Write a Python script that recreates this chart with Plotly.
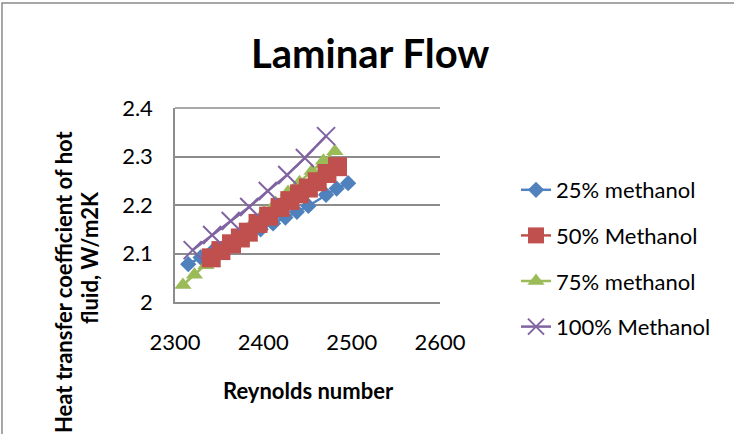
import plotly.graph_objects as go

# Reynolds number vs. hot-fluid heat transfer coefficient, laminar regime
re_25 = [2315, 2329, 2342, 2356, 2369, 2383, 2397, 2411, 2425, 2438, 2451, 2471, 2483, 2496]
h_25 = [2.078, 2.092, 2.104, 2.115, 2.127, 2.139, 2.150, 2.162, 2.174, 2.186, 2.198, 2.221, 2.234, 2.245]

re_50 = [2341, 2352, 2364, 2374, 2383, 2394, 2406, 2419, 2430, 2441, 2451, 2461, 2472, 2484]
h_50 = [2.091, 2.106, 2.120, 2.132, 2.144, 2.162, 2.177, 2.195, 2.209, 2.223, 2.235, 2.248, 2.265, 2.279]

re_75 = [2309, 2322, 2335, 2348, 2361, 2375, 2388, 2401, 2414, 2428, 2441, 2455, 2468, 2481]
h_75 = [2.035, 2.056, 2.076, 2.099, 2.121, 2.140, 2.163, 2.185, 2.204, 2.227, 2.247, 2.270, 2.291, 2.311]

re_100 = [2320, 2342, 2363, 2384, 2405, 2427, 2447, 2471]
h_100 = [2.107, 2.138, 2.167, 2.196, 2.229, 2.262, 2.297, 2.342]

series_names = ["25% methanol", "50% Methanol", "75% methanol", "100% Methanol"]
x_ticks = [2300, 2400, 2500, 2600]
y_ticks = [2, 2.1, 2.2, 2.3, 2.4]

FONT = "Lato"
BLUE, RED, GREEN, PURPLE = "#4F81BD", "#C0504D", "#9BBB59", "#8064A2"
GRID = "#8C8C8C"

fig = go.Figure()

# draw order: blue, green, red, purple (legend order set by legendrank)
fig.add_trace(go.Scatter(
    x=re_25, y=h_25, name=series_names[0], mode="lines+markers",
    line=dict(color=BLUE, width=2.5),
    marker=dict(symbol="diamond", size=12.5, color=BLUE),
    legendrank=1, legendgroup="a"))
fig.add_trace(go.Scatter(
    x=re_75, y=h_75, name=series_names[2], mode="lines+markers",
    line=dict(color=GREEN, width=2.5),
    marker=dict(symbol="triangle-up", size=15, color=GREEN),
    legendrank=3, legendgroup="c"))
fig.add_trace(go.Scatter(
    x=re_50, y=h_50, name=series_names[1], mode="lines+markers",
    line=dict(color=RED, width=2.5),
    marker=dict(symbol="square", size=19, color=RED),
    legendrank=2, legendgroup="b"))
fig.add_trace(go.Scatter(
    x=re_100, y=h_100, name=series_names[3], mode="lines+markers",
    line=dict(color=PURPLE, width=2.5),
    marker=dict(symbol="x-thin", size=18, color=PURPLE,
                line=dict(color=PURPLE, width=2)),
    legendrank=4, legendgroup="d"))

# plot area spans x 175..440 px, y 108..302 px
L, R, T, B = 175, 440, 108, 302
W, H = 734, 434


def px(xp):
    return (xp - L) / (R - L)


def py(yp):
    return (B - yp) / (B - T)


fig.update_layout(
    width=W, height=H,
    margin=dict(l=L, r=W - R, t=T, b=H - B, pad=0),
    paper_bgcolor="white", plot_bgcolor="white",
    font=dict(family=FONT, size=22, color="black"),
    showlegend=True,
    legend=dict(
        x=px(516), y=py(169), xanchor="left", yanchor="top",
        font=dict(family=FONT, size=22, color="black"),
        tracegroupgap=14, bgcolor="rgba(0,0,0,0)",
        itemwidth=30,
    ),
    xaxis=dict(
        range=[2300, 2600], tickvals=x_ticks, ticktext=[str(v) for v in x_ticks],
        showgrid=False, zeroline=False, showline=True,
        linecolor=GRID, linewidth=1.5, ticks="",
        ticklabelstandoff=20,
        tickfont=dict(family=FONT, size=22, color="black"),
    ),
    yaxis=dict(
        range=[2, 2.4], tickvals=y_ticks, ticktext=["2", "2.1", "2.2", "2.3", "2.4"],
        showgrid=True, gridcolor=GRID, gridwidth=1.5,
        zeroline=False, showline=True,
        linecolor=GRID, linewidth=1.5, ticks="",
        ticklabelstandoff=16,
        tickfont=dict(family=FONT, size=22, color="black"),
    ),
    shapes=[
        # chart frame
        dict(type="rect", xref="paper", yref="paper",
             x0=px(2), x1=px(760), y0=py(460), y1=py(3),
             line=dict(color="#8A8A8A", width=1.5), fillcolor="rgba(0,0,0,0)",
             layer="below"),
        # top edge of plot area
        dict(type="line", xref="paper", yref="paper", x0=0, x1=1, y0=1, y1=1,
             line=dict(color=GRID, width=1.5)),
    ],
    annotations=[
        dict(text="<b>Laminar Flow</b>", xref="paper", yref="paper",
             x=px(370), y=py(53), xanchor="center", yanchor="middle",
             showarrow=False, font=dict(family=FONT, size=40, color="black")),
        dict(text="<b>Reynolds number</b>", xref="paper", yref="paper",
             x=px(308), y=py(390), xanchor="center", yanchor="middle",
             showarrow=False, font=dict(family=FONT, size=22, color="black")),
        # y-axis title, one annotation per line
        dict(text="<b>Heat transfer coefficient of hot</b>",
             xref="paper", yref="paper", textangle=-90,
             x=px(63), y=py(282), xanchor="center", yanchor="middle",
             showarrow=False, font=dict(family=FONT, size=22, color="black")),
        dict(text="<b>fluid, W/m2K</b>",
             xref="paper", yref="paper", textangle=-90,
             x=px(89), y=py(258), xanchor="center", yanchor="middle",
             showarrow=False, font=dict(family=FONT, size=22, color="black")),
    ],
)

fig.write_html("out.html")
